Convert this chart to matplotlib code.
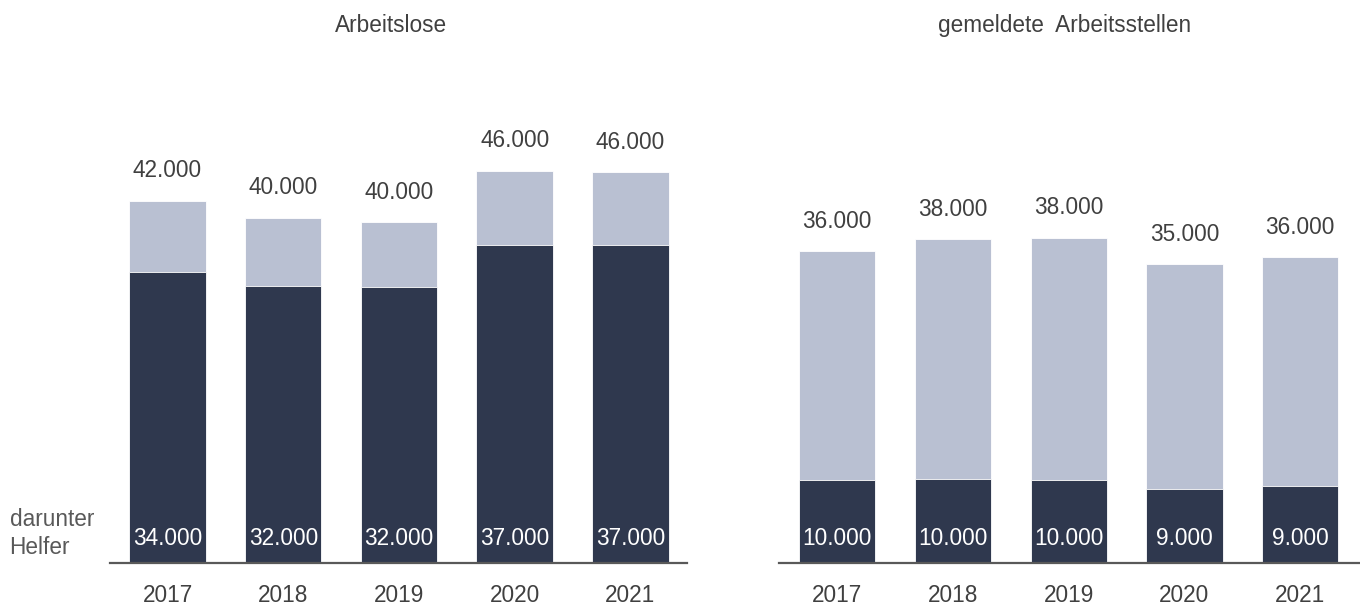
import matplotlib.pyplot as plt

plt.rcParams["font.family"] = ["Liberation Sans", "DejaVu Sans"]

jahre = ["2017", "2018", "2019", "2020", "2021"]

# Arbeitslose (gesamt und darunter Helfer)
arbeitslose = [42300, 40350, 39800, 45850, 45650]
arbeitslose_helfer = [34000, 32400, 32200, 37200, 37200]

# gemeldete Arbeitsstellen (gesamt und darunter Helfer)
stellen = [36400, 37800, 38000, 34900, 35700]
stellen_helfer = [9670, 9820, 9670, 8580, 9000]

titel = ["Arbeitslose", "gemeldete  Arbeitsstellen"]

FARBE_HELL = "#b9c0d2"
FARBE_DUNKEL = "#2f384e"
FARBE_TEXT = "#404040"
GROESSE = 16.3


def fmt(wert):
    return f"{round(wert / 1000) * 1000:,}".replace(",", ".")


def zeichne_panel(ax, gesamt, helfer, xlim):
    x = range(len(jahre))
    ax.bar(x, gesamt, width=0.66, color=FARBE_HELL, edgecolor="white", linewidth=0.6)
    ax.bar(x, helfer, width=0.66, color=FARBE_DUNKEL, edgecolor="white", linewidth=0.6)

    for i, (g, h) in enumerate(zip(gesamt, helfer)):
        ax.annotate(fmt(g), (i, g), xytext=(0, 21.6), textcoords="offset points",
                    ha="center", va="center", fontsize=GROESSE, color=FARBE_TEXT)
        ax.annotate(fmt(h), (i, 0), xytext=(0, 17.3), textcoords="offset points",
                    ha="center", va="center", fontsize=GROESSE, color="white")

    ax.set_xlim(*xlim)
    ax.set_ylim(0, 54100)
    ax.set_xticks(list(x))
    ax.set_xticklabels(jahre, fontsize=GROESSE, color=FARBE_TEXT)
    ax.tick_params(axis="x", length=0, pad=15)
    ax.set_yticks([])
    for seite in ["top", "right", "left"]:
        ax.spines[seite].set_visible(False)
    ax.spines["bottom"].set_color("#595959")
    ax.spines["bottom"].set_linewidth(1.6)


fig = plt.figure(figsize=(13.6, 6.04), dpi=100)

ax1 = fig.add_axes([0.0809, 0.0684, 0.4243, 0.766])
ax2 = fig.add_axes([0.573, 0.0684, 0.427, 0.766])

zeichne_panel(ax1, arbeitslose, arbeitslose_helfer, (-0.497, 4.49))
zeichne_panel(ax2, stellen, stellen_helfer, (-0.50, 4.516))

fig.text(0.2875, 0.957, titel[0], ha="center", va="center", fontsize=GROESSE, color=FARBE_TEXT)
fig.text(0.7824, 0.957, titel[1], ha="center", va="center", fontsize=GROESSE, color=FARBE_TEXT)

fig.text(0.007, 1 - 519 / 604, "darunter", ha="left", va="center", fontsize=GROESSE, color="#595959")
fig.text(0.007, 1 - 548 / 604, "Helfer", ha="left", va="center", fontsize=GROESSE, color="#595959")

fig.savefig("out.png", dpi=100)
